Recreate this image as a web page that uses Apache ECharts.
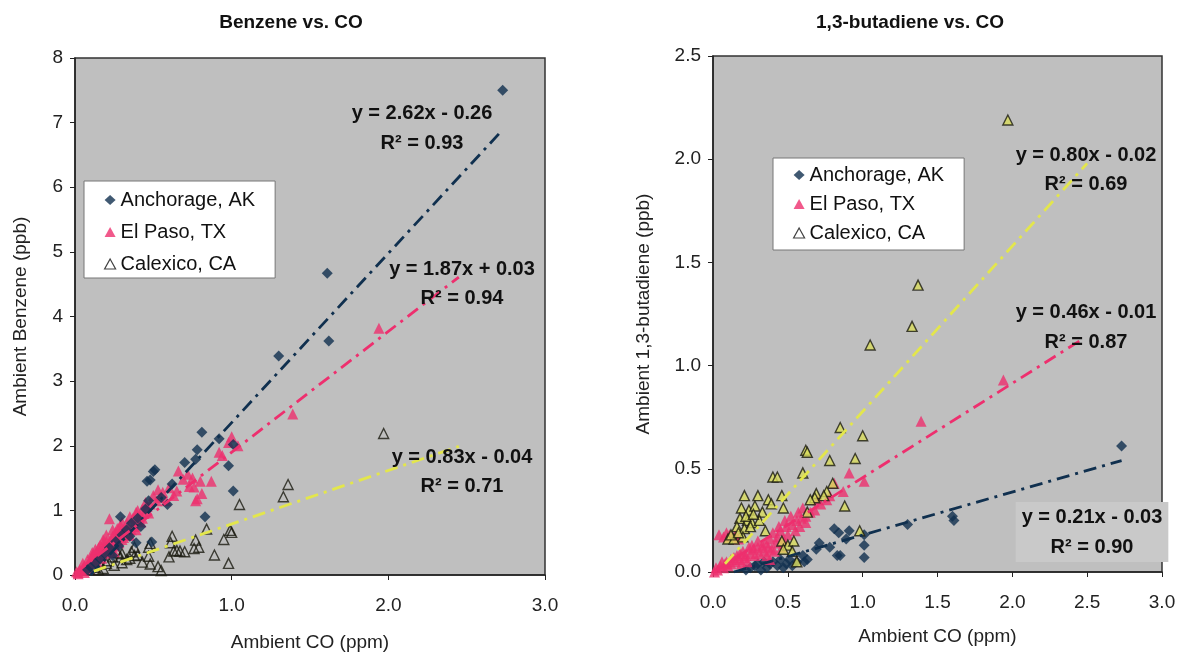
<!DOCTYPE html>
<html>
<head>
<meta charset="utf-8">
<script src="https://cdn.jsdelivr.net/npm/echarts@6/dist/echarts.min.js"></script>
<style>
  html, body { margin: 0; padding: 0; background: #fff; }
  #chart { width: 1179px; height: 653px; }
</style>
</head>
<body>
<div id="chart"></div>
<script>
// series names
const siteNames = ['Anchorage, AK', 'El Paso, TX', 'Calexico, CA']

// benzene vs CO  [CO ppm, benzene ppb]
const benzAnchorage = [
  [2.73,7.50],[1.61,4.67],[1.62,3.62],[1.30,3.39],[0.81,2.21],[0.92,2.11],[1.01,2.02],[0.78,1.94],
  [0.77,1.79],[0.70,1.74],[0.98,1.69],[0.51,1.63],[0.50,1.60],[0.48,1.47],[0.46,1.45],[0.62,1.41],
  [1.01,1.30],[0.47,1.15],[0.59,1.09],[0.83,0.90],[0.29,0.90],[0.39,0.50],[0.49,0.51],[0.45,1.02],
  [0.40,0.88],[0.36,0.80],[0.33,0.70],[0.30,0.62],[0.26,0.52],[0.22,0.42],[0.19,0.33],[0.16,0.25],
  [0.13,0.18],[0.10,0.12],[0.08,0.08],[0.35,0.60],[0.28,0.45],[0.24,0.30],[0.42,0.75],[0.55,1.20]
]
const benzElPaso = [
  [1.94,3.82],[1.39,2.49],[1.00,2.14],[1.04,2.00],[0.92,1.90],[0.87,1.45],[0.76,1.36],[0.78,1.18],
  [0.66,1.61],[0.72,1.56],[0.75,1.50],[0.80,1.45],[0.73,1.37],[0.81,1.26],[0.77,1.15],[0.63,1.23],
  [0.65,1.30],[0.54,1.20],[0.56,1.28],[0.60,1.35],[0.69,1.48],[0.94,1.85],[0.98,2.05],
  [0.50,1.23],[0.46,1.06],[0.42,0.82],[0.39,0.97],[0.44,0.95],[0.48,1.10],[0.52,1.15],[0.40,0.85],
  [0.37,0.78],[0.35,0.61],[0.34,0.72],[0.31,0.70],[0.29,0.77],[0.27,0.56],[0.26,0.66],[0.24,0.60],
  [0.22,0.87],[0.22,0.50],[0.20,0.52],[0.20,0.44],[0.18,0.41],[0.18,0.48],[0.16,0.38],[0.15,0.30],
  [0.14,0.35],[0.13,0.27],[0.12,0.22],[0.11,0.28],[0.10,0.25],[0.10,0.18],[0.09,0.20],[0.08,0.15],
  [0.07,0.12],[0.06,0.14],[0.05,0.10],[0.04,0.07],[0.03,0.08],[0.02,0.04],[0.01,0.05],[0.02,0.02],
  [0.30,0.55],[0.32,0.62],[0.36,0.70],[0.38,0.75],[0.41,0.90],[0.43,0.88],[0.47,0.96],[0.25,0.45],
  [0.23,0.42],[0.28,0.50],[0.19,0.36],[0.17,0.32],[0.21,0.40],[0.26,0.58],[0.33,0.80],[0.29,0.68],
  [0.15,0.42],[0.12,0.33],[0.24,0.70],[0.18,0.55],[0.45,1.12],[0.53,1.32],[0.58,1.15],[0.35,0.90],
  [0.30,0.82],[0.40,1.00],[0.05,0.18],[0.08,0.24],[0.11,0.35],[0.14,0.20],[0.17,0.26],[0.21,0.34],
  [0.23,0.55],[0.27,0.72],[0.31,0.58],[0.34,0.66],[0.37,0.88],[0.39,0.70],[0.43,1.02],[0.06,0.04],
  [0.09,0.10],[0.13,0.40],[0.16,0.46],[0.20,0.62],[0.25,0.36],[0.28,0.62]
]
const benzCalexico = [
  [1.97,2.19],[1.36,1.40],[1.33,1.21],[1.05,1.09],[1.00,0.66],[0.95,0.55],[0.89,0.31],[0.98,0.18],
  [0.84,0.71],[0.99,0.69],[0.77,0.54],[0.79,0.43],[0.76,0.41],[0.70,0.36],[0.67,0.37],[0.63,0.37],
  [0.62,0.60],[0.61,0.50],[0.60,0.28],[0.65,0.38],[0.48,0.49],[0.47,0.43],[0.47,0.29],[0.48,0.17],
  [0.53,0.13],[0.55,0.07],[0.38,0.43],[0.36,0.36],[0.30,0.33],[0.29,0.28],[0.24,0.28],[0.21,0.22],
  [0.16,0.17],[0.13,0.12],[0.35,0.26],[0.40,0.31],[0.43,0.20],[0.30,0.19],[0.18,0.10],[0.25,0.15],
  [0.33,0.24],[0.27,0.35],[0.20,0.18],[0.38,0.30],[0.15,0.08]
]

// 1,3-butadiene vs CO  [CO ppm, butadiene ppb]
const butaAnchorage = [
  [2.73,0.61],[1.61,0.25],[1.60,0.27],[1.30,0.23],[0.91,0.20],[1.01,0.18],[1.01,0.13],[1.01,0.07],
  [0.83,0.08],[0.78,0.12],[0.71,0.14],[0.81,0.21],[0.84,0.19],[0.89,0.16],[0.85,0.08],[0.69,0.11],
  [0.61,0.05],[0.63,0.06],[0.60,0.08],[0.53,0.03],[0.49,0.04],[0.45,0.06],[0.43,0.03],[0.40,0.05],
  [0.36,0.02],[0.32,0.01],[0.28,0.03],[0.25,0.02],[0.22,0.01],[0.47,0.02],[0.38,0.04],[0.34,0.05],
  [0.30,0.04],[0.56,0.05],[0.51,0.06]
]
const butaElPaso = [
  [1.94,0.93],[1.39,0.73],[0.91,0.48],[1.01,0.44],[0.81,0.43],[0.87,0.39],[0.78,0.37],[0.76,0.35],
  [0.72,0.33],[0.68,0.30],[0.65,0.29],[0.62,0.27],[0.59,0.26],[0.56,0.25],[0.53,0.23],[0.49,0.22],
  [0.47,0.16],[0.43,0.17],[0.40,0.19],[0.38,0.16],[0.35,0.14],[0.33,0.13],[0.30,0.12],[0.27,0.11],
  [0.25,0.09],[0.22,0.08],[0.21,0.07],[0.18,0.06],[0.15,0.05],[0.12,0.04],[0.10,0.03],[0.07,0.02],
  [0.05,0.03],[0.03,0.01],[0.02,0.02],[0.01,0.00],
  [0.04,0.18],[0.07,0.17],[0.09,0.19],[0.11,0.18],[0.13,0.17],[0.15,0.18],[0.17,0.16],
  [0.45,0.20],[0.42,0.14],[0.37,0.12],[0.34,0.10],[0.31,0.09],[0.28,0.08],[0.26,0.13],[0.24,0.12],
  [0.20,0.10],[0.18,0.09],[0.16,0.08],[0.14,0.07],[0.12,0.06],[0.09,0.05],[0.08,0.04],[0.06,0.05],
  [0.50,0.18],[0.55,0.20],[0.58,0.22],[0.62,0.24],[0.52,0.27],[0.48,0.25],[0.44,0.22],[0.39,0.11],
  [0.36,0.08],[0.41,0.10],[0.46,0.12],[0.30,0.15],[0.23,0.05],[0.19,0.04],[0.57,0.29],[0.60,0.31],
  [0.70,0.35],[0.38,0.06]
]
const butaCalexico = [
  [1.97,2.19],[1.37,1.39],[1.33,1.19],[1.05,1.10],[0.85,0.70],[1.00,0.66],[0.62,0.59],[0.63,0.58],
  [0.95,0.55],[0.78,0.54],[0.60,0.48],[0.80,0.43],[0.40,0.46],[0.43,0.46],[0.88,0.32],[0.98,0.20],
  [0.21,0.37],[0.30,0.37],[0.37,0.35],[0.46,0.37],[0.39,0.33],[0.47,0.31],[0.69,0.38],[0.68,0.36],
  [0.65,0.35],[0.76,0.39],[0.74,0.37],[0.19,0.31],[0.24,0.30],[0.28,0.32],[0.33,0.29],[0.18,0.26],
  [0.23,0.25],[0.26,0.24],[0.31,0.25],[0.16,0.22],[0.21,0.21],[0.25,0.22],[0.10,0.16],[0.14,0.16],
  [0.20,0.17],[0.46,0.15],[0.50,0.13],[0.54,0.15],[0.47,0.11],[0.53,0.10],[0.56,0.05],[0.63,0.29],
  [0.35,0.20],[0.12,0.18],[0.17,0.19],[0.22,0.27],[0.27,0.28]
]

// trendline end points
const benzTrendAnchorage = [[0.10,0.00],[2.73,6.89]]
const benzTrendElPaso = [[0.00,0.03],[2.45,4.61]]
const benzTrendCalexico = [[0.12,0.06],[2.45,1.99]]
const butaTrendAnchorage = [[0.14,0.00],[2.73,0.54]]
const butaTrendElPaso = [[0.00,0.00],[2.45,1.12]]
const butaTrendCalexico = [[0.08,0.04],[2.50,1.98]]

// equation labels
const benzEquations = ['y = 2.62x - 0.26', 'R² = 0.93', 'y = 1.87x + 0.03', 'R² = 0.94', 'y = 0.83x - 0.04', 'R² = 0.71']
const butaEquations = ['y = 0.80x - 0.02', 'R² = 0.69', 'y = 0.46x - 0.01', 'R² = 0.87', 'y = 0.21x - 0.03', 'R² = 0.90']

const benzTicksY = [0, 8, 1]
const butaTicksY = [0, 2.5, 0.5]

const font = 'Liberation Sans, Arial, sans-serif'
const navy = '#10304f'
const pink = '#ee2f6e'
const yellow = '#e3e64c'
const dashDot = [13, 6, 3, 6]

let myChart = echarts.init(document.getElementById('chart'))

function axisBase(grid) {
  return {
    gridIndex: grid,
    type: 'value',
    splitLine: { show: false },
    axisLine: { show: true, onZero: false, lineStyle: { color: '#222', width: 1.5 } },
    axisTick: { show: true, inside: false, length: 5, lineStyle: { color: '#222' } },
    axisLabel: { color: '#222', fontFamily: font, fontSize: 19 },
    nameTextStyle: { color: '#222', fontFamily: font, fontSize: 19 },
    nameLocation: 'middle'
  }
}

function scatter(name, data, x, symbol, style, size) {
  return {
    name: name, type: 'scatter', xAxisIndex: x, yAxisIndex: x,
    symbol: symbol, symbolSize: size, data: data, itemStyle: style, z: 3
  }
}

function trend(name, data, x, color) {
  return {
    name: name, type: 'line', xAxisIndex: x, yAxisIndex: x, data: data,
    showSymbol: false, symbol: 'none', silent: true, z: 4,
    lineStyle: { color: color, width: 2.8, type: dashDot }
  }
}

function label(text, x, y, bg) {
  let s = { text: text, x: x, y: y, font: 'bold 20px ' + font, fill: '#111', align: 'center', verticalAlign: 'middle', lineHeight: 30 }
  if (bg) { s.backgroundColor = bg; s.padding = [0, 6] }
  return { type: 'text', z: 100, style: s }
}

let legendBase = {
  orient: 'vertical',
  data: [
    { name: siteNames[0] },
    { name: siteNames[1] },
    { name: siteNames[2], itemStyle: { color: '#fff', borderColor: '#111', borderWidth: 1.2 } }
  ],
  backgroundColor: '#fff',
  borderColor: '#777',
  borderWidth: 1,
  itemWidth: 11,
  itemHeight: 10,
  textStyle: { fontFamily: font, fontSize: 20, color: '#111' },
  selectedMode: false
}

let option = {
  animation: false,
  backgroundColor: '#fff',
  grid: [
    { left: 75, top: 58, width: 470, height: 517, show: true, backgroundColor: '#bfbfbf', borderColor: '#333', borderWidth: 1.5, outerBoundsMode: 'none', containLabel: false },
    { left: 713, top: 56, width: 449, height: 516, show: true, backgroundColor: '#bfbfbf', borderColor: '#333', borderWidth: 1.5, outerBoundsMode: 'none', containLabel: false }
  ],
  xAxis: [
    Object.assign(axisBase(0), {
      min: 0, max: 3, interval: 1, name: 'Ambient CO (ppm)', nameGap: 58,
      axisLabel: { color: '#222', fontFamily: font, fontSize: 19, margin: 21, formatter: v => v.toFixed(1) }
    }),
    Object.assign(axisBase(1), {
      min: 0, max: 3, interval: 0.5, name: 'Ambient CO (ppm)', nameGap: 55,
      axisLabel: { color: '#222', fontFamily: font, fontSize: 19, margin: 21, formatter: v => v.toFixed(1) }
    })
  ],
  yAxis: [
    Object.assign(axisBase(0), {
      min: benzTicksY[0], max: benzTicksY[1], interval: benzTicksY[2], name: 'Ambient Benzene (ppb)', nameGap: 45,
      axisLabel: { color: '#222', fontFamily: font, fontSize: 19, margin: 12 }
    }),
    Object.assign(axisBase(1), {
      min: butaTicksY[0], max: butaTicksY[1], interval: butaTicksY[2], name: 'Ambient 1,3-butadiene (ppb)', nameGap: 60,
      axisLabel: { color: '#222', fontFamily: font, fontSize: 19, margin: 12, formatter: v => v.toFixed(1) }
    })
  ],
  legend: [
    Object.assign({}, legendBase, { left: 84, top: 181, padding: [9, 20, 4, 20], itemGap: 12 }),
    Object.assign({}, legendBase, { left: 773, top: 158, padding: [7, 20, 7, 20], itemGap: 9 })
  ],
  graphic: [
    { type: 'text', z: 100, style: { text: 'Benzene vs. CO', x: 291, y: 23, font: 'bold 19px ' + font, fill: '#111', align: 'center', verticalAlign: 'middle' } },
    { type: 'text', z: 100, style: { text: '1,3-butadiene vs. CO', x: 910, y: 23, font: 'bold 19px ' + font, fill: '#111', align: 'center', verticalAlign: 'middle' } },
    label(benzEquations[0], 422, 113), label(benzEquations[1], 422, 143),
    label(benzEquations[2], 462, 269), label(benzEquations[3], 462, 298),
    label(benzEquations[4], 462, 457), label(benzEquations[5], 462, 486),
    label(butaEquations[0], 1086, 155), label(butaEquations[1], 1086, 184),
    label(butaEquations[2], 1086, 312), label(butaEquations[3], 1086, 342),
    label(butaEquations[4] + '\n' + butaEquations[5], 1092, 532, '#c9c9c9')
  ],
  series: [
    trend('trend1', benzTrendAnchorage, 0, navy),
    trend('trend2', benzTrendElPaso, 0, pink),
    trend('trend3', benzTrendCalexico, 0, yellow),
    scatter(siteNames[2], benzCalexico, 0, 'triangle', { color: 'rgba(0,0,0,0)', borderColor: '#1a1a10', borderWidth: 1.4 }, 10),
    scatter(siteNames[1], benzElPaso, 0, 'triangle', { color: pink }, 11),
    scatter(siteNames[0], benzAnchorage, 0, 'diamond', { color: navy }, 11),
    trend('trend4', butaTrendAnchorage, 1, navy),
    trend('trend5', butaTrendElPaso, 1, pink),
    trend('trend6', butaTrendCalexico, 1, yellow),
    scatter(siteNames[0], butaAnchorage, 1, 'diamond', { color: navy }, 11),
    scatter(siteNames[1], butaElPaso, 1, 'triangle', { color: pink }, 11),
    scatter(siteNames[2], butaCalexico, 1, 'triangle', { color: '#d9dc5c', borderColor: '#1a1a10', borderWidth: 1.4 }, 10)
  ]
}

myChart.setOption(option)
</script>
</body>
</html>
